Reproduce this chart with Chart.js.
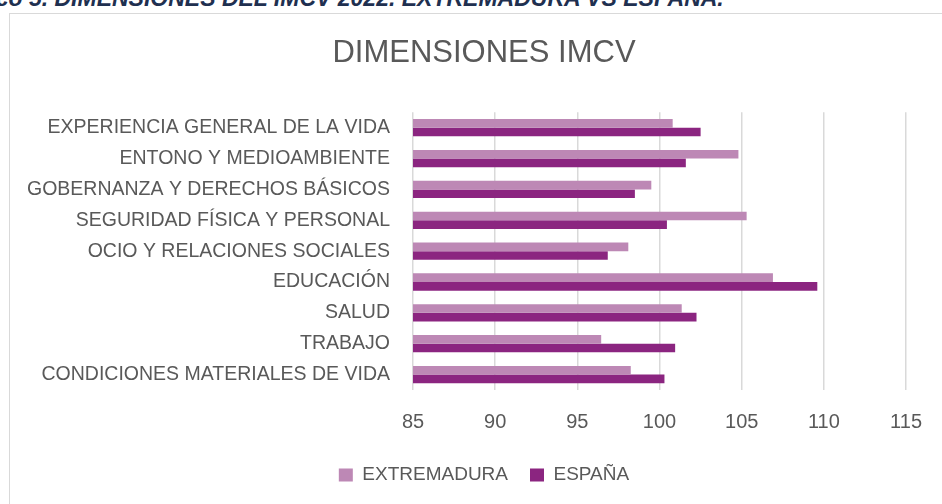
<!DOCTYPE html>
<html>
<head>
<meta charset="utf-8">
<script src="https://cdn.jsdelivr.net/npm/chart.js@4.4.1/dist/chart.umd.min.js"></script>
<style>
  html,body{margin:0;padding:0;background:#fff;overflow:hidden;}
  #wrap{position:relative;width:942px;height:504px;overflow:hidden;}
  #caption{position:absolute;left:-58px;top:-13px;line-height:23px;font-family:"Liberation Sans",Arial,sans-serif;font-style:italic;font-weight:bold;font-size:23px;color:#1f3050;white-space:nowrap;}
  #frame{position:absolute;left:9px;top:13px;width:960px;height:520px;border:1px solid #d9d9d9;box-sizing:border-box;}
  canvas{position:absolute;left:0;top:0;}
</style>
</head>
<body>
<div id="wrap">
  <div id="caption">Gráfico 5. DIMENSIONES DEL IMCV 2022. EXTREMADURA VS ESPAÑA.</div>
  <div id="frame"></div>
  <canvas id="c" width="942" height="504"></canvas>
</div>
<script>
const categories = [
  "EXPERIENCIA GENERAL DE LA VIDA",
  "ENTONO Y MEDIOAMBIENTE",
  "GOBERNANZA Y DERECHOS BÁSICOS",
  "SEGURIDAD FÍSICA Y PERSONAL",
  "OCIO Y RELACIONES SOCIALES",
  "EDUCACIÓN",
  "SALUD",
  "TRABAJO",
  "CONDICIONES MATERIALES DE VIDA"
];
const extremadura = [100.8, 104.8, 99.5, 105.3, 98.1, 106.9, 101.35, 96.45, 98.25];
const espana      = [102.5, 101.6, 98.5, 100.45, 96.85, 109.6, 102.25, 100.95, 100.3];
const xTicks = [85, 90, 95, 100, 105, 110, 115];

const FONT = "'Liberation Sans', Arial, sans-serif";
const GRAY = "#595959";

new Chart(document.getElementById('c'), {
  type: 'bar',
  data: {
    labels: categories,
    datasets: [
      {label: 'EXTREMADURA', data: extremadura, backgroundColor: '#bd88b5', borderWidth: 0},
      {label: 'ESPAÑA', data: espana, backgroundColor: '#8b2580', borderWidth: 0}
    ]
  },
  options: {
    indexAxis: 'y',
    responsive: false,
    animation: false,
    devicePixelRatio: 1,
    layout: {padding: {left: 28, right: 2, top: 0, bottom: 9.5}},
    datasets: {bar: {categoryPercentage: 0.56, barPercentage: 1.0}},
    scales: {
      x: {
        min: 85, max: 115,
        afterBuildTicks: (s) => { s.ticks = xTicks.map(v => ({value: v})); },
        grid: {color: '#d9d9d9', lineWidth: 1.5, drawTicks: false},
        border: {display: false},
        ticks: {color: GRAY, font: {family: FONT, size: 20}, padding: 20},
        afterFit: (s) => { s.height = 53.5; }
      },
      y: {
        grid: {display: false, drawTicks: false},
        border: {display: false},
        ticks: {color: GRAY, font: {family: FONT, size: 19.5}, padding: 23, autoSkip: false},
        afterFit: (s) => { s.width = 385; }
      },
      yRightSpace: {
        type: 'category',
        position: 'right',
        labels: categories,
        grid: {display: false, drawTicks: false},
        border: {display: false},
        ticks: {display: false},
        afterFit: (s) => { s.width = 30; }
      }
    },
    plugins: {
      title: {
        display: true, text: 'DIMENSIONES IMCV', color: GRAY,
        font: {family: FONT, size: 31, weight: 'normal'},
        padding: {top: 35.2, bottom: 39.9}
      },
      legend: {
        position: 'bottom',
        labels: {color: GRAY, font: {family: FONT, size: 19}, boxWidth: 14, boxHeight: 13, padding: 22}
      },
      tooltip: {enabled: false}
    }
  }
});
</script>
</body>
</html>
